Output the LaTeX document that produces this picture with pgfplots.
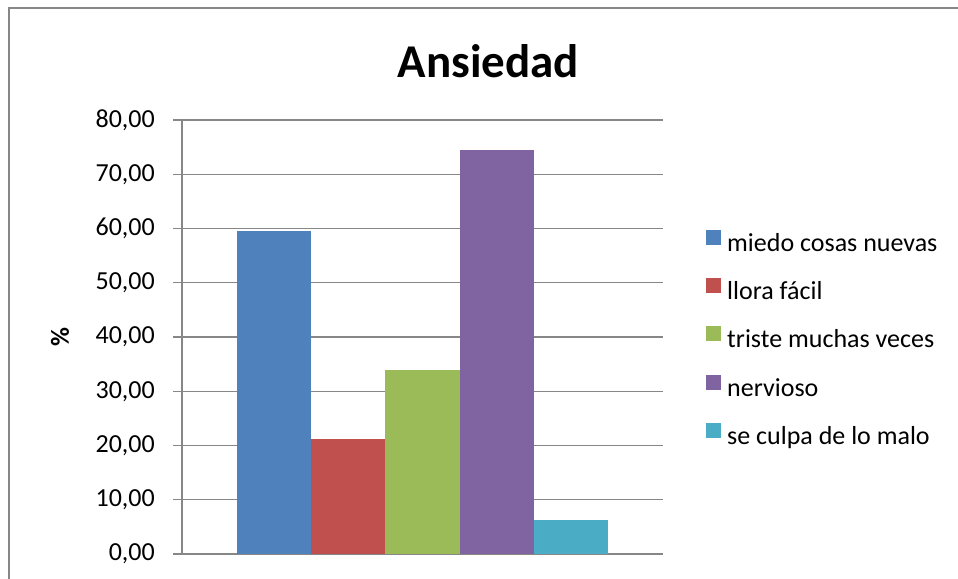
\documentclass[border=0pt]{standalone}
\usepackage{fontspec}
\setmainfont{Carlito}
\usepackage{pgfplots}
\pgfplotsset{compat=1.18}
\definecolor{cBlue}{HTML}{4F81BD}
\definecolor{cRed}{HTML}{C0504D}
\definecolor{cGreen}{HTML}{9BBB59}
\definecolor{cPurple}{HTML}{8064A2}
\definecolor{cCyan}{HTML}{4BACC6}
\definecolor{cGrid}{HTML}{878787}
\begin{document}
\begin{tikzpicture}
\begin{axis}[
  scale only axis, width=481bp, height=434bp,
  xmin=-3.24, xmax=3.24, ymin=0, ymax=80,
  ytick={0,10,...,80}, xtick=\empty,
  axis y line*=left, axis x line*=bottom,
  axis line style={cGrid, line width=1.3bp, -},
  ymajorgrids, major grid style={cGrid, line width=1.3bp},
  tick align=outside, major tick length=9bp,
  tick style={cGrid, line width=1.3bp},
  /pgf/number format/.cd, fixed, fixed zerofill, precision=2, use comma, assume math mode=true,
  /pgfplots/.cd,
  yticklabel style={font=\fontsize{26bp}{30bp}\selectfont, anchor=east, inner sep=0pt, xshift=-18bp},
  legend style={draw=none, fill=none, inner sep=0pt, at={(axis description cs:1.0894,0.7465)}, anchor=north west,
    row sep=21.6bp, font=\fontsize{26bp}{30bp}\selectfont,
    nodes={inner sep=0pt, text height=18bp, text depth=5bp},
    /tikz/every odd column/.append style={column sep=6bp}},
  legend cell align=left,
  legend image code/.code={\fill[#1, draw=none] (0bp,0bp) rectangle (15bp,15bp);},
]
\addplot[ybar, bar width=1, bar shift=0pt, fill=cBlue, draw=none] coordinates {(-2,59.54)};
\addplot[ybar, bar width=1, bar shift=0pt, fill=cRed, draw=none] coordinates {(-1,21.2)};
\addplot[ybar, bar width=1, bar shift=0pt, fill=cGreen, draw=none] coordinates {(0,33.9)};
\addplot[ybar, bar width=1, bar shift=0pt, fill=cPurple, draw=none] coordinates {(1,74.47)};
\addplot[ybar, bar width=1, bar shift=0pt, fill=cCyan, draw=none] coordinates {(2,6.27)};
\legend{miedo cosas nuevas, llora fácil, triste muchas veces, nervioso, se culpa de lo malo}
\end{axis}
\begin{scope}[x=1bp,y=1bp,shift={(-182bp,-25bp)}]
\useasboundingbox (0,0) rectangle (958,579);
\draw[cGrid, line width=1.5bp] (9,0) -- (9,571) -- (958,571);
\node[anchor=base, font=\fontsize{47bp}{50bp}\selectfont\bfseries] at (488.5,501) {Ansiedad};
\node[rotate=90, font=\fontsize{26bp}{30bp}\selectfont\bfseries] at (60,242) {\%};
\end{scope}
\end{tikzpicture}
\end{document}
